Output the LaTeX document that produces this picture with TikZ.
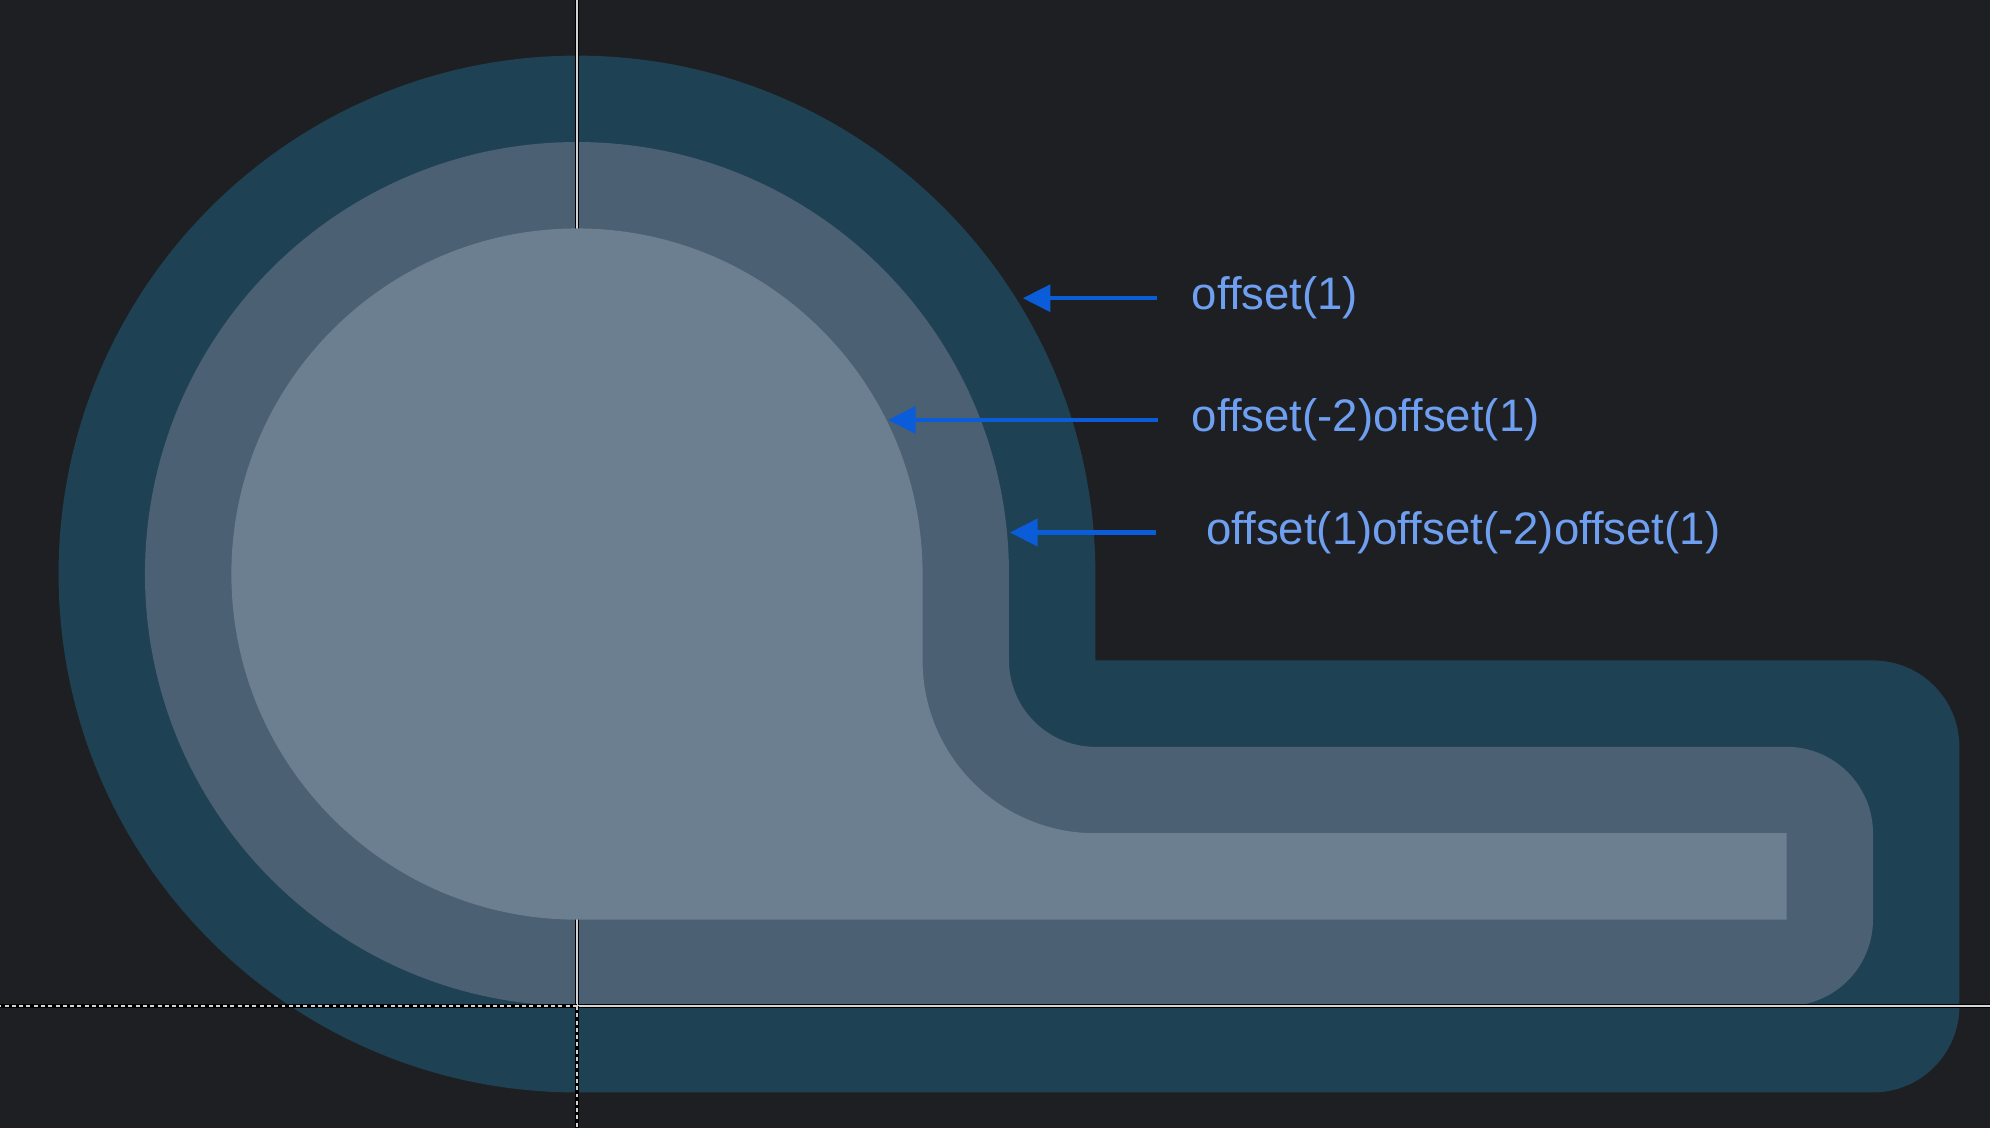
\documentclass[tikz,border=0pt]{standalone}
\usepackage{fontspec}
\setmainfont{Liberation Sans}
\usepackage{tikz}
\usetikzlibrary{arrows.meta}

\definecolor{bg}{HTML}{1E1F22}
\definecolor{bandout}{HTML}{1F4154}
\definecolor{bandmid}{HTML}{4B6072}
\definecolor{bandin}{HTML}{6C7F90}
\definecolor{arrowblue}{HTML}{0B5CD8}
\definecolor{labeltext}{HTML}{6E9FF0}
\definecolor{axisline}{HTML}{D4D4D4}

\begin{document}
\begin{tikzpicture}[
  lbl/.style={anchor=base west, inner sep=0pt, text=labeltext, font=\fontsize{15}{18}\selectfont},
  pointer/.style={draw=arrowblue, line width=1.35pt, -{Triangle[length=3.2mm,width=3.1mm]}},
  axis/.style={draw=axisline, line width=0.7pt, preaction={draw=black, line width=1.2pt, solid}},
  axisdash/.style={axis, dash pattern=on 1.3pt off 1.1pt}
 ]
 \useasboundingbox (-6.678,-1.412) rectangle (16.354,11.644);
 \fill[bg] (-6.678,-1.412) rectangle (16.354,11.644);

 % offset(1)
 \fill[bandout] (0,-1) -- (15,-1) arc[start angle=-90,end angle=0,radius=1] -- (16,3)
   arc[start angle=0,end angle=90,radius=1] -- (6,4) -- (6,5)
   arc[start angle=0,end angle=270,radius=6] -- cycle;
 % offset(1)offset(-2)offset(1)
 \fill[bandmid] (0,0) -- (14,0) arc[start angle=-90,end angle=0,radius=1] -- (15,2)
   arc[start angle=0,end angle=90,radius=1] -- (6,3)
   arc[start angle=270,end angle=180,radius=1] -- (5,5)
   arc[start angle=0,end angle=270,radius=5] -- cycle;

 % axes
 \draw[axis] (0,0) -- (0,11.644) (0,0) -- (16.354,0);
 \draw[axisdash] (0,0) -- (0,-1.412) (0,0) -- (-6.678,0);

 % offset(-2)offset(1)
 \fill[bandin] (0,1) -- (14,1) -- (14,2) -- (6,2)
   arc[start angle=270,end angle=180,radius=2] -- (4,5)
   arc[start angle=0,end angle=270,radius=4] -- cycle;

 \node[lbl] (lbl1) at (7.11,8.056) {offset(1)};
 \node[lbl] (lbl2) at (7.11,6.647) {offset(-2)offset(1)};
 \node[lbl] (lbl3) at (7.277,5.344) {offset(1)offset(-2)offset(1)};

 \coordinate (tip1) at (5.16,8.2);
 \coordinate (tip2) at (3.60,6.77);
 \coordinate (tip3) at (5.01,5.45);

 \draw[pointer] ([xshift=-4mm]lbl1.west) -- (tip1 |- lbl1.west);
 \draw[pointer] ([xshift=-3.9mm]lbl2.west) -- (tip2 |- lbl2.west);
 \draw[pointer] ([xshift=-5.7mm]lbl3.west) -- (tip3 |- lbl3.west);
\end{tikzpicture}
\end{document}
